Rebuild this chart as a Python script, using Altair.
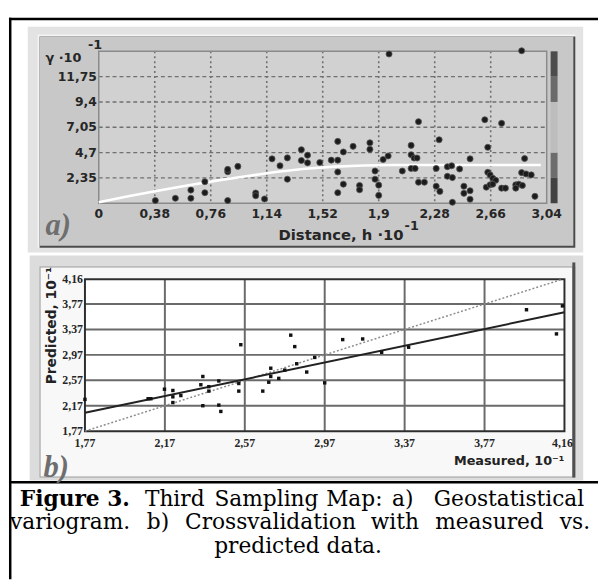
import altair as alt
import pandas as pd

OFF = 8  # page margin: view coordinate = page pixel - OFF

# ---------------- panel a) : experimental variogram ----------------
a_lag = [0.384, 0.52, 0.625, 0.625, 0.72, 0.72, 0.875, 0.875, 0.875, 0.944,
         1.065, 1.065, 1.125, 1.176, 1.23, 1.28, 1.28, 1.375, 1.417, 1.375,
         1.417, 1.5, 1.578, 1.622, 1.622, 1.66, 1.622, 1.66, 1.622, 1.726,
         1.77, 1.77, 1.84, 1.84, 1.875, 1.875, 1.9, 1.9, 1.93, 1.964,
         1.97, 2.06, 2.12, 2.12, 2.14, 2.16, 2.12, 2.147, 2.17, 2.17,
         2.21, 2.29, 2.31, 2.29, 2.315, 2.366, 2.395, 2.449, 2.366, 2.4,
         2.4, 2.478, 2.478, 2.52, 2.52, 2.52, 2.62, 2.64, 2.64, 2.656,
         2.674, 2.694, 2.63, 2.656, 2.674, 2.734, 2.734, 2.76, 2.83, 2.85,
         2.875, 2.83, 2.87, 2.89, 2.87, 2.9, 2.935, 2.96]
a_gamma = [0.25, 0.46, 0.46, 1.22, 0.98, 2.0, 0.25, 2.93, 3.14, 3.42,
           0.95, 0.70, 0.40, 4.12, 3.48, 4.21, 2.23, 4.97, 4.46, 3.97,
           3.75, 3.78, 4.0, 4.0, 5.74, 4.76, 2.90, 1.77, 0.98, 5.28,
           1.65, 1.25, 5.61, 5.0, 2.99, 2.23, 1.68, 0.73, 4.06, 4.39,
           13.85, 2.99, 5.37, 4.5, 4.2, 4.2, 3.23, 3.23, 7.57, 1.95,
           1.95, 3.23, 5.89, 1.58, 1.1, 3.39, 3.48, 3.18, 2.5, 2.38,
           0.09, 1.58, 0.92, 1.16, 0.37, 4.12, 7.75, 5.19, 2.87, 2.63,
           2.32, 2.13, 1.49, 1.71, 1.77, 7.42, 1.4, 1.4, 1.71, 1.77,
           1.65, 1.4, 14.15, 4.15, 2.84, 2.72, 2.63, 0.64]
a_model_lag = [0, 0.2, 0.4, 0.6, 0.8, 1.0, 1.2, 1.4, 1.6, 1.8, 2.0, 2.5, 3.0]
a_model_gamma = [0.1, 0.65, 1.15, 1.65, 2.1, 2.5, 2.9, 3.2, 3.4, 3.5, 3.55, 3.55, 3.55]

a_x_ticks = [0, 0.38, 0.76, 1.14, 1.52, 1.9, 2.28, 2.66, 3.04]
a_x_labels = ["0", "0,38", "0,76", "1,14", "1,52", "1,9", "2,28", "2,66", "3,04"]
a_y_ticks = [2.35, 4.7, 7.05, 9.4, 11.75]
a_y_labels = ["2,35", "4,7", "7,05", "9,4", "11,75"]
a_grid_x = [0.38, 0.76, 1.14, 1.52, 1.9, 2.28, 2.66]

a_bar_lo = [0, 2.35, 4.7, 9.4, 11.75]
a_bar_hi = [2.35, 4.7, 9.4, 11.75, 14.1]
a_bar_col = ["#424242", "#6c6c6c", "#bdbdbd", "#6a6a6a", "#4c4c4c"]

# ---------------- panel b) : cross-validation ----------------
b_measured = [1.77, 2.086, 2.10, 2.168, 2.21, 2.21, 2.21, 2.25, 2.36, 2.35,
              2.39, 2.39, 2.36, 2.44, 2.44, 2.45, 2.54, 2.54, 2.55, 2.66,
              2.69, 2.70, 2.70, 2.74, 2.77, 2.80, 2.82, 2.83, 2.88, 2.92,
              2.97, 3.06, 3.16, 3.255, 3.39, 3.98, 4.16, 4.13]
b_predicted = [2.27, 2.28, 2.28, 2.43, 2.41, 2.31, 2.22, 2.33, 2.63, 2.50,
               2.47, 2.40, 2.17, 2.56, 2.18, 2.08, 2.52, 2.40, 3.13, 2.40,
               2.54, 2.76, 2.63, 2.60, 2.73, 3.28, 3.10, 2.83, 2.70, 2.93,
               2.53, 3.21, 3.22, 3.01, 3.09, 3.68, 3.74, 3.30]
b_fit_x = [1.77, 4.17]
b_fit_y = [2.06, 3.64]
b_ident = [1.77, 4.16]

b_ticks = [1.77, 2.17, 2.57, 2.97, 3.37, 3.77, 4.16]
b_labels = ["1,77", "2,17", "2,57", "2,97", "3,37", "3,77", "4,16"]
b_grid = [2.17, 2.57, 2.97, 3.37, 3.77]

# ---------------- caption (justified lines, one entry per word) ----------------
cap_words = ["Figure 3.", "Third", "Sampling", "Map:", "a)", "Geostatistical",
             "variogram.", "b)", "Crossvalidation", "with", "measured", "vs.",
             "predicted data."]
cap_bold = [True] + [False] * 12
cap_line = [0, 0, 0, 0, 0, 0, 1, 1, 1, 1, 1, 1, 2]
cap_align = ["left", "center", "center", "center", "center", "right",
             "left", "center", "center", "center", "center", "right", "center"]
cap_x = [20, 177, 270, 359, 408, 592,
         10, 160, 274, 400, 496, 598, 302]
cap_base = [509, 532.5, 556]

# ---------------- scales (fixed pixel ranges, one per panel) ----------------
sAx = alt.Scale(domain=[0, 3.04], range=[100 - OFF, 554 - OFF], nice=False, zero=False)
sAy = alt.Scale(domain=[0, 14.1], range=[202 - OFF, 48 - OFF], nice=False, zero=False)
sBx = alt.Scale(domain=[1.77, 4.17], range=[86 - OFF, 572 - OFF], nice=False, zero=False)
sBy = alt.Scale(domain=[1.77, 4.16], range=[433 - OFF, 279 - OFF], nice=False, zero=False)

one = alt.Data(values=[{"d": 0}])


def box(x1, y1, x2, y2, fill, stroke=None, sw=0):
    kw = {"fill": fill}
    if stroke:
        kw.update(stroke=stroke, strokeWidth=sw)
    return alt.Chart(one).mark_rect(**kw).encode(
        x=alt.value(x1 - OFF), x2=alt.value(x2 - OFF),
        y=alt.value(y1 - OFF), y2=alt.value(y2 - OFF))


def note(text, x, y, size, font="DejaVu Sans", weight="normal", style="normal",
         color="#000000", align="left", baseline="alphabetic", angle=0):
    return alt.Chart(one).mark_text(
        text=text, font=font, fontSize=size, fontWeight=weight, fontStyle=style,
        color=color, align=align, baseline=baseline, angle=angle).encode(
        x=alt.value(x - OFF), y=alt.value(y - OFF))


layers = []

# outer figure frame
layers += [
    box(9, 14, 606, 16.5, "#000000"),
    box(9, 14, 11.5, 583, "#000000"),
    box(9, 483.5, 606, 486, "#000000"),
]

# ---- panel a decoration ----
layers += [
    box(28, 23, 591, 252, "#e3e3e3"),
    box(38, 31, 583, 247, "#f4f4f4"),
    box(40, 33, 583, 247, "#4a4a4a"),
    box(40, 33, 581, 245, "#c8c8c8"),
    box(100, 48, 554, 202, "#d1d1d1"),
]

dfA_bar = pd.DataFrame({"lo": a_bar_lo, "hi": a_bar_hi, "c": a_bar_col})
layers.append(alt.Chart(dfA_bar).mark_rect().encode(
    y=alt.Y("lo:Q", scale=sAy, axis=None), y2="hi:Q",
    x=alt.value(558 - OFF), x2=alt.value(565 - OFF),
    color=alt.Color("c:N", scale=None)))

layers.append(alt.Chart(pd.DataFrame({"v": a_grid_x})).mark_rule(
    color="#707070", strokeDash=[2, 3], strokeWidth=1.6).encode(
    x=alt.X("v:Q", scale=sAx, axis=None),
    y=alt.value(48 - OFF), y2=alt.value(202 - OFF)))
layers.append(alt.Chart(pd.DataFrame({"v": a_y_ticks})).mark_rule(
    color="#707070", strokeDash=[4, 3], strokeWidth=1.4).encode(
    y=alt.Y("v:Q", scale=sAy, axis=None),
    x=alt.value(100 - OFF), x2=alt.value(554 - OFF)))

layers.append(box(100, 48, 554, 202, "transparent", "#8a8a8a", 1.5))

layers.append(alt.Chart(pd.DataFrame({"h": a_model_lag, "g": a_model_gamma})).mark_line(
    color="#ffffff", strokeWidth=2.6).encode(
    x=alt.X("h:Q", scale=sAx, axis=None), y=alt.Y("g:Q", scale=sAy, axis=None)))

layers.append(alt.Chart(pd.DataFrame({"h": a_lag, "g": a_gamma})).mark_circle(
    size=38, color="#1c1c1c", opacity=1, stroke="#555555", strokeWidth=0.8).encode(
    x=alt.X("h:Q", scale=sAx, axis=None), y=alt.Y("g:Q", scale=sAy, axis=None)))

layers.append(alt.Chart(pd.DataFrame({"v": a_y_ticks, "t": a_y_labels})).mark_text(
    font="DejaVu Sans", fontSize=12.5, fontWeight="bold", color="#262626",
    align="right", baseline="middle").encode(
    y=alt.Y("v:Q", scale=sAy, axis=None), x=alt.value(98 - OFF), text="t:N"))
layers.append(alt.Chart(pd.DataFrame({"v": a_x_ticks, "t": a_x_labels})).mark_text(
    font="DejaVu Sans", fontSize=12.5, fontWeight="bold", color="#262626",
    align="center", baseline="middle").encode(
    x=alt.X("v:Q", scale=sAx, axis=None), y=alt.value(213 - OFF), text="t:N"))

layers += [
    note("γ ·10", 46, 59, 13, weight="bold", color="#262626"),
    note("-1", 89, 46, 13, weight="bold", color="#262626"),
    note("Distance, h ·10", 409, 239, 15, weight="bold", color="#262626", align="right"),
    note("-1", 410, 229, 13, weight="bold", color="#262626"),
    note("a)", 46, 234, 31, font="Liberation Serif", weight="bold", style="italic",
         color="#6e6e6e"),
]

# ---- panel b decoration ----
layers += [
    box(30, 255, 591, 483, "#dcdcdc"),
    box(40, 266, 583, 480, "#9c9c9c"),
    box(41, 267, 580, 479, "#f8f8f8"),
    box(580, 262, 583, 480, "#505050"),
    box(86, 279, 572, 433, "#ffffff"),
]

layers.append(alt.Chart(pd.DataFrame({"v": b_grid})).mark_rule(
    color="#6a6a6a", strokeWidth=2).encode(
    x=alt.X("v:Q", scale=sBx, axis=None),
    y=alt.value(279 - OFF), y2=alt.value(433 - OFF)))
layers.append(alt.Chart(pd.DataFrame({"v": b_grid})).mark_rule(
    color="#6a6a6a", strokeWidth=2).encode(
    y=alt.Y("v:Q", scale=sBy, axis=None),
    x=alt.value(86 - OFF), x2=alt.value(572 - OFF)))
layers.append(box(86, 279, 572, 433, "transparent", "#2e2e2e", 2))

layers.append(alt.Chart(pd.DataFrame({"m": b_ident, "p": b_ident})).mark_line(
    color="#8c8c8c", strokeWidth=1.5, strokeDash=[2, 2]).encode(
    x=alt.X("m:Q", scale=sBx, axis=None), y=alt.Y("p:Q", scale=sBy, axis=None)))
layers.append(alt.Chart(pd.DataFrame({"m": b_fit_x, "p": b_fit_y})).mark_line(
    color="#222222", strokeWidth=2).encode(
    x=alt.X("m:Q", scale=sBx, axis=None), y=alt.Y("p:Q", scale=sBy, axis=None)))

layers.append(alt.Chart(pd.DataFrame({"m": b_measured, "p": b_predicted})).mark_square(
    size=12, color="#111111", opacity=1).encode(
    x=alt.X("m:Q", scale=sBx, axis=None), y=alt.Y("p:Q", scale=sBy, axis=None)))

layers.append(alt.Chart(pd.DataFrame({"v": b_ticks, "t": b_labels})).mark_text(
    font="Liberation Sans Narrow", fontSize=12, fontWeight="bold", color="#262626",
    align="right", baseline="middle").encode(
    y=alt.Y("v:Q", scale=sBy, axis=None), x=alt.value(84 - OFF), text="t:N"))
layers.append(alt.Chart(pd.DataFrame({"v": b_ticks, "t": b_labels})).mark_text(
    font="Liberation Sans Narrow", fontSize=12, fontWeight="bold", color="#262626",
    align="center", baseline="middle").encode(
    x=alt.X("v:Q", scale=sBx, axis=None), y=alt.value(445 - OFF), text="t:N"))

layers += [
    note("Predicted, 10⁻¹", 57, 326, 14, weight="bold", color="#222222",
         align="center", angle=270),
    note("Measured, 10⁻¹", 572, 467, 13, weight="bold", color="#222222", align="right"),
    note("b)", 44, 479, 31, font="Liberation Serif", weight="bold", style="italic",
         color="#6e6e6e"),
]

# ---- caption ----
for w, b, ln, x, al in zip(cap_words, cap_bold, cap_line, cap_x, cap_align):
    layers.append(note(w, x, cap_base[ln], 22, font="DejaVu Serif",
                       weight="bold" if b else "normal", color="#000000", align=al))

chart = alt.layer(*layers).resolve_scale(x="independent", y="independent").properties(
    width=606 - OFF, height=583 - OFF, padding=0,
    autosize=alt.AutoSizeParams(type="none"), background="#ffffff"
).configure_view(stroke=None)

chart.save("out.html", embed_options={"renderer": "svg", "actions": False})
